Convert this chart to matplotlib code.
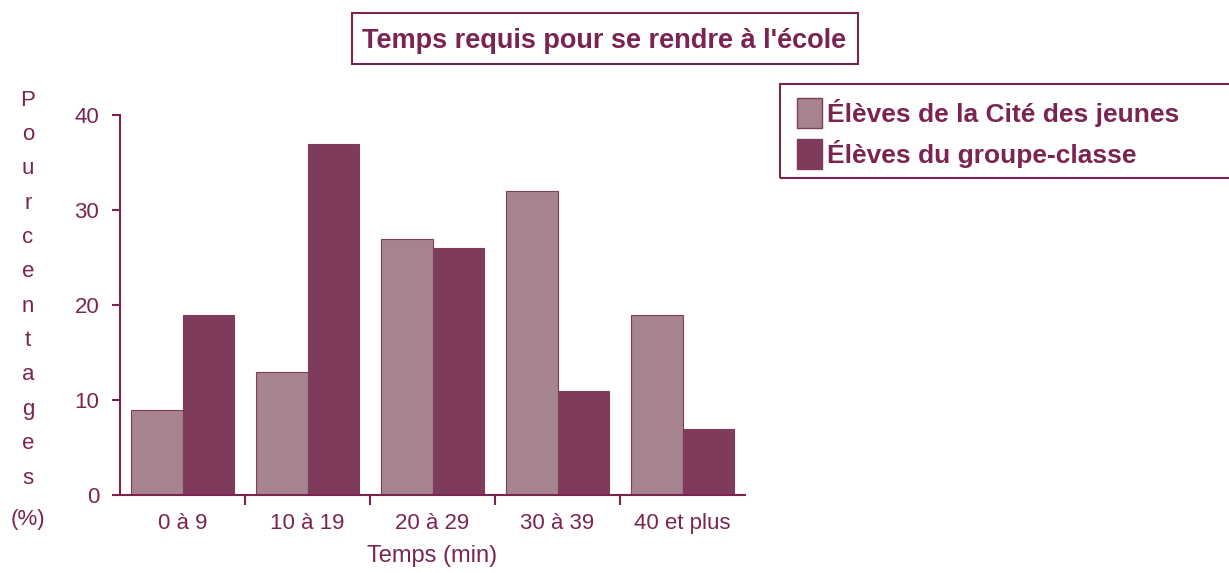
import matplotlib
matplotlib.use('Agg')
import matplotlib.pyplot as plt
import numpy as np
from matplotlib.patches import Patch, Rectangle

categories = ['0 à 9', '10 à 19', '20 à 29', '30 à 39', '40 et plus']
cite_jeunes = [9, 13, 27, 32, 19]
groupe_classe = [19, 37, 26, 11, 7]
series_labels = ['Élèves de la Cité des jeunes', 'Élèves du groupe-classe']
y_ticks = [0, 10, 20, 30, 40]
ylabel_letters = 'Pourcentages'

TXT   = '#7B2452'
LIGHT = '#A6848F'
DARK  = '#7F3B5C'
FAM   = ['Liberation Sans', 'DejaVu Sans']

plt.rcParams['font.family'] = FAM

W, H = 1229, 573
fig = plt.figure(figsize=(W / 100, H / 100), dpi=100)
ax = fig.add_axes([120 / W, 1 - 495 / H, 625 / W, 380 / H])

x = np.arange(len(categories))
bw = 0.41
ax.bar(x - 0.205, cite_jeunes, bw, color=LIGHT, edgecolor=DARK, lw=0.8)
ax.bar(x + 0.205, groupe_classe, bw, color=DARK, edgecolor=DARK, lw=0.8)

ax.set_xlim(-0.5, len(categories) - 0.5)
ax.set_ylim(0, 40)
for s in ('top', 'right'):
    ax.spines[s].set_visible(False)
for s in ('left', 'bottom'):
    ax.spines[s].set_color(TXT)
    ax.spines[s].set_linewidth(1.5)

ax.set_yticks(y_ticks)
ax.tick_params(axis='y', colors=TXT, labelcolor=TXT, length=6, width=1.5,
               labelsize=16, pad=9)
ax.set_xticks(x)
ax.set_xticklabels(categories)
ax.set_xticks(np.arange(0.5, len(categories) - 1, 1.0), minor=True)
ax.tick_params(axis='x', which='major', length=0, labelsize=16,
               labelcolor=TXT, pad=13)
ax.tick_params(axis='x', which='minor', length=7, width=1.5, color=TXT)
ax.set_xlabel('Temps (min)', fontsize=17, color=TXT, labelpad=8)

# vertical stacked y label
ys = np.linspace(100, 478, len(ylabel_letters))
for ch, yy in zip(ylabel_letters, ys):
    fig.text(28 / W, 1 - yy / H, ch, fontsize=16, color=TXT,
             ha='center', va='center')
fig.text(28 / W, 1 - 520 / H, '(%)', fontsize=16, color=TXT,
         ha='center', va='center')

# title in a box
fig.patches.append(Rectangle((352 / W, 1 - 64 / H), 506 / W, 51 / H,
                             transform=fig.transFigure, fill=False,
                             ec=TXT, lw=1.5))
fig.text(604 / W, 1 - 41 / H, "Temps requis pour se rendre à l'école",
         fontsize=19.5, fontweight='bold', color=TXT,
         ha='center', va='center')

# legend frame runs off the right edge
fig.patches.append(Rectangle((780 / W, 1 - 178 / H), 460 / W, 94 / H,
                             transform=fig.transFigure, fill=False,
                             ec=TXT, lw=1.5))
handles = [Patch(facecolor=LIGHT, edgecolor=DARK),
           Patch(facecolor=DARK, edgecolor=DARK)]
leg = fig.legend(handles, series_labels, loc='upper left',
                 bbox_to_anchor=(789 / W, 1 - 90 / H), borderaxespad=0,
                 prop=dict(weight='bold', size=19),
                 handlelength=0.95, handleheight=1.35, handletextpad=0.2,
                 labelspacing=0.45, borderpad=0.3, frameon=False)
for t in leg.get_texts():
    t.set_color(TXT)

fig.savefig('out.png', dpi=100, facecolor='white')
